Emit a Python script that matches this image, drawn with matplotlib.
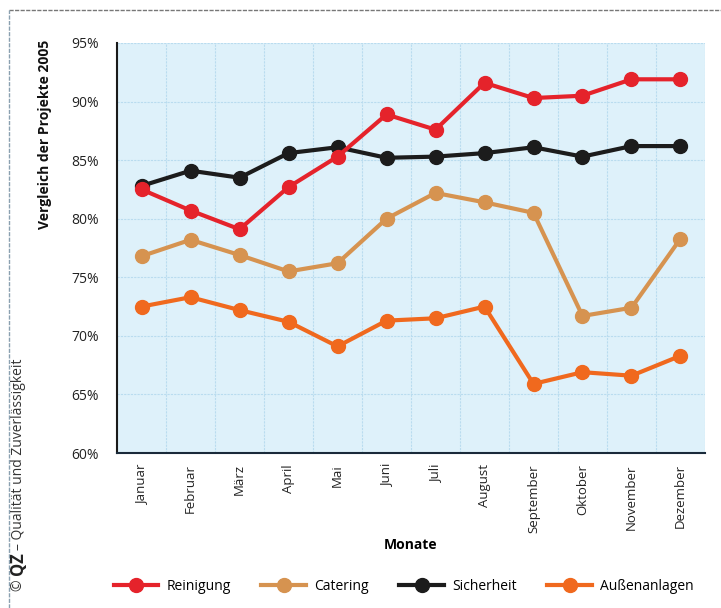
import matplotlib
matplotlib.use("Agg")
import matplotlib.pyplot as plt
from matplotlib.lines import Line2D
from matplotlib.ticker import FuncFormatter, MultipleLocator
import numpy as np

months = ["Januar", "Februar", "März", "April", "Mai", "Juni", "Juli",
          "August", "September", "Oktober", "November", "Dezember"]
reinigung = [82.5, 80.7, 79.1, 82.7, 85.3, 88.9, 87.6, 91.6, 90.3, 90.5, 91.9, 91.9]
catering = [76.8, 78.2, 76.9, 75.5, 76.2, 80.0, 82.2, 81.4, 80.5, 71.7, 72.4, 78.3]
sicherheit = [82.8, 84.1, 83.5, 85.6, 86.1, 85.2, 85.3, 85.6, 86.1, 85.3, 86.2, 86.2]
aussen = [72.5, 73.3, 72.2, 71.2, 69.1, 71.3, 71.5, 72.5, 65.9, 66.9, 66.6, 68.3]
series_names = ["Reinigung", "Catering", "Sicherheit", "Außenanlagen"]
series_colors = ["#e5232b", "#d69350", "#1c1c1c", "#f0691e"]

plt.rcParams['font.family'] = ['Open Sans', 'DejaVu Sans']

fig = plt.figure(figsize=(7.21, 6.08), dpi=100)
ax = fig.add_axes([0.1623, 0.2549, 0.8155, 0.6744])
ax.set_facecolor("#def1fa")

x = np.arange(len(months)) + 0.5
all_series = [reinigung, catering, sicherheit, aussen]
order = [1, 3, 2, 0]
for i in order:
    ax.plot(x, all_series[i], color=series_colors[i], lw=3, marker='o',
            markersize=10, zorder=3 + (i == 0))

ax.set_xlim(0, 12)
ax.set_ylim(60, 95)
ax.yaxis.set_major_locator(MultipleLocator(5))
ax.yaxis.set_major_formatter(FuncFormatter(lambda v, p: f"{int(v)}%"))
ax.set_xticks(x)
ax.set_xticklabels(months, rotation=90, fontsize=9.5, color="#222222")
ax.set_xticks(np.arange(0, 13), minor=True)
ax.tick_params(axis='x', which='both', length=0, pad=8)
ax.tick_params(axis='y', length=0, pad=13, labelsize=10, labelcolor="#222222")
ax.grid(True, which='minor', axis='x', color="#b9dcef", lw=0.8, ls=(0, (2, 1)))
ax.grid(True, which='major', axis='y', color="#b9dcef", lw=0.8, ls=(0, (2, 1)))
ax.grid(False, which='major', axis='x')
ax.set_axisbelow(True)
for s in ["top", "right"]:
    ax.spines[s].set_visible(False)
ax.spines["left"].set_color("#1a1a1a")
ax.spines["bottom"].set_color("#1a2a3a")
ax.spines["left"].set_linewidth(1.5)
ax.spines["bottom"].set_linewidth(1.5)

ax.set_xlabel("Monate", fontweight='bold', fontsize=10, labelpad=4)
fig.text(45 / 721, 1 - 40 / 608, "Vergleich der Projekte 2005", rotation=90,
         fontweight='bold', fontsize=10, va='top', ha='center', color="#111111")

handles = [Line2D([0], [0], color=c, lw=3, marker='o', markersize=10) for c in series_colors]
fig.legend(handles, series_names, loc='center', bbox_to_anchor=(0.56, 0.036),
           ncol=4, frameon=False, fontsize=10, handlelength=3.2, columnspacing=2.2,
           handletextpad=0.6)

fig.text(0.025, 0.028, "©", rotation=90, fontsize=10, va='bottom', ha='center', color="#333333")
fig.text(0.025, 0.055, "QZ", rotation=90, fontsize=12, fontweight='bold', va='bottom', ha='center', color="#222222")
fig.text(0.025, 0.095, "– Qualität und Zuverlässigkeit", rotation=90, fontsize=10,
         va='bottom', ha='center', color="#333333")

fig.add_artist(Line2D([0.013, 1.0], [0.983, 0.983], transform=fig.transFigure,
                      color="#777777", lw=1, ls=(0, (3, 1))))
fig.add_artist(Line2D([0.013, 0.013], [0.0, 0.983], transform=fig.transFigure,
                      color="#8aa0b0", lw=1, ls=(0, (3, 1))))

fig.savefig("out.png", dpi=100, facecolor="white")
